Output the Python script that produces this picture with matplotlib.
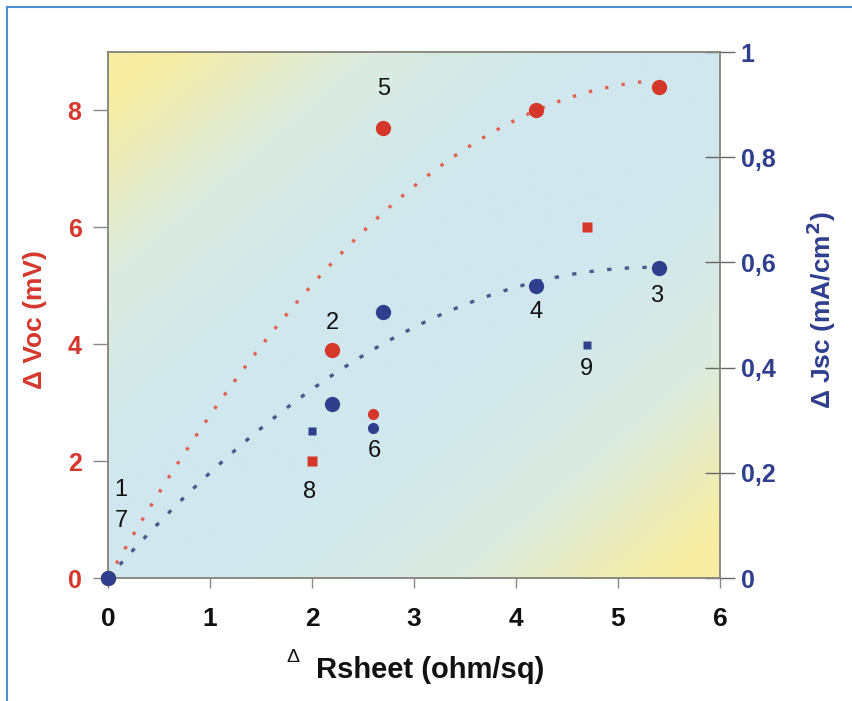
import numpy as np
import matplotlib.pyplot as plt
from matplotlib.colors import LinearSegmentedColormap

# sample data
samples = ['1', '2', '3', '4', '5', '6', '7', '8', '9']
rsheet = [0.0, 2.2, 5.4, 4.2, 2.7, 2.6, 0.0, 2.0, 4.7]
dvoc = [0.0, 3.9, 8.4, 8.0, 7.7, 2.8, 0.0, 2.0, 6.0]
djsc = [0.0, 0.33, 0.59, 0.555, 0.505, 0.285, 0.0, 0.28, 0.443]
kind = ['big', 'big', 'big', 'big', 'big', 'small', 'big', 'square', 'square']

# label offsets (pixels) and which point they attach to
label_anchor = ['voc', 'voc', 'jsc', 'jsc', 'voc', 'jsc', 'voc', 'voc', 'jsc']
label_off = [(13, 88), (0, 27), (-2, -28), (0, -26), (0, 39), (1, -23), (13, 57), (-2, -31), (-1, -24)]

xticks = [0, 1, 2, 3, 4, 5, 6]
voc_ticks = [0, 2, 4, 6, 8]
jsc_ticks = [0, 0.2, 0.4, 0.6, 0.8, 1]
jsc_ticklabels = ['0', '0,2', '0,4', '0,6', '0,8', '1']

RED = '#d5372b'
BLUE = '#2f3f8e'
plt.rcParams['font.family'] = ['Liberation Sans', 'DejaVu Sans']

fig = plt.figure(figsize=(8.52, 7.01), dpi=100)
ax = fig.add_axes([108/852, 1-578/701, 612/852, 526/701])
ax2 = ax.twinx()

# diagonal yellow-blue-yellow background
n = 300
gx, gy = np.meshgrid(np.linspace(0, 1, n), np.linspace(1, 0, n))
u = np.abs(gx - gy)
w = np.clip((u - 0.15) / 0.75, 0, 1) ** 1.2
cmap = LinearSegmentedColormap.from_list('bg', ['#d0e7ee', '#dcebe0', '#f7eea4'])
ax.imshow(w, cmap=cmap, extent=[0, 1, 0, 1], transform=ax.transAxes,
          aspect='auto', zorder=0, vmin=0, vmax=1, interpolation='bicubic')

ax.set_xlim(0, 6)
ax.set_ylim(0, 9)
ax2.set_ylim(0, 1)

# trend lines: quadratic least-squares through the origin, round markers 2-5
fit_idx = [1, 2, 3, 4]
xf = np.array([rsheet[i] for i in fit_idx])
A = np.column_stack([xf, xf ** 2])
cv = np.linalg.lstsq(A, np.array([dvoc[i] for i in fit_idx]), rcond=None)[0]
cj = np.linalg.lstsq(A, np.array([djsc[i] for i in fit_idx]), rcond=None)[0]
xs = np.linspace(0, 5.3, 100)
ax.plot(xs, cv[0] * xs + cv[1] * xs ** 2, color='#e2604f', lw=2.4, ls=(0, (1, 4)), zorder=2)
ax2.plot(xs, cj[0] * xs + cj[1] * xs ** 2, color='#4a5a8e', lw=2.4, ls=(0, (1.3, 4)), zorder=2)

sizes = {'big': 11, 'small': 8, 'square': 6.5}
for i in range(len(samples)):
    m = 's' if kind[i] == 'square' else 'o'
    ms = sizes[kind[i]]
    if samples[i] != '7':
        ax.plot(rsheet[i], dvoc[i], m, color=RED, ms=ms, mec='none', zorder=4, clip_on=False)
        ax2.plot(rsheet[i], djsc[i], m, color=BLUE, ms=ms if m == 'o' else ms - 1, mec='none',
                 zorder=5, clip_on=False)
    y = dvoc[i] if label_anchor[i] == 'voc' else djsc[i]
    a = ax if label_anchor[i] == 'voc' else ax2
    a.annotate(samples[i], (rsheet[i], y), xytext=label_off[i], textcoords='offset pixels',
               ha='center', va='center', fontsize=17, color='#111111', zorder=6)

ax.set_xticks(xticks)
ax.set_yticks(voc_ticks)
ax2.set_yticks(jsc_ticks)
ax2.set_yticklabels(jsc_ticklabels)

ax.tick_params(axis='x', labelsize=19, length=7, width=1, color='#888888', pad=14, labelcolor='#111111')
ax.tick_params(axis='y', labelsize=18, length=11, width=1, color='#888888', pad=8, labelcolor=RED)
ax2.tick_params(axis='y', labelsize=18, length=22, width=1, color='#666666', pad=4,
                direction='inout', labelcolor=BLUE)
for t in ax.get_yticklabels() + ax2.get_yticklabels() + ax.get_xticklabels():
    t.set_fontweight('bold')

for a in (ax, ax2):
    for s in a.spines.values():
        s.set_color('#8a8a80')
        s.set_linewidth(1.2)

fig.text(35/852, 1-320/701, '\u0394 Voc (mV)', rotation=90, ha='center', va='center',
         fontsize=19, fontweight='bold', color=RED)
fig.text(821/852, 1-310/701, '\u0394 Jsc (mA/cm$^\\mathbf{2}$)', rotation=90, ha='center', va='center',
         fontsize=19, fontweight='bold', color=BLUE)
fig.text(293/852, 1-657/701, '\u0394', ha='center', va='center', fontsize=14, color='#111111')
fig.text(430/852, 1-670/701, 'Rsheet (ohm/sq)', ha='center', va='center',
         fontsize=21, fontweight='bold', color='#111111')

# outer frame (left and top edges)
fig.add_artist(plt.Line2D([7/852, 7/852], [0, 1-7/701], transform=fig.transFigure, color='#4a8fd0', lw=1.5))
fig.add_artist(plt.Line2D([7/852, 1], [1-7/701, 1-7/701], transform=fig.transFigure, color='#4a8fd0', lw=1.5))

fig.savefig('out.png', dpi=100)
